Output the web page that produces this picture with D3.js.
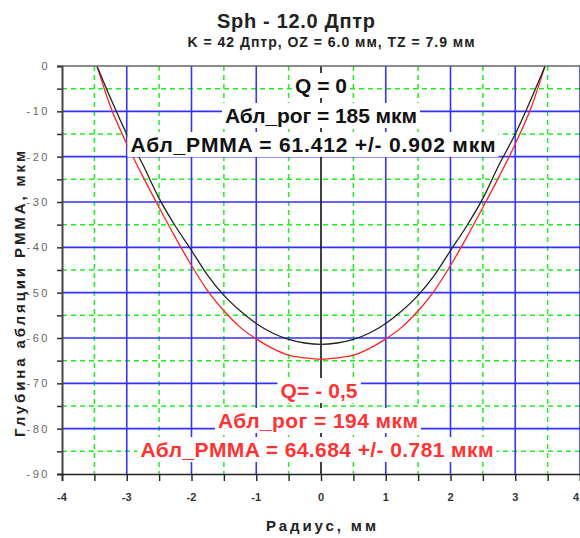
<!DOCTYPE html>
<html>
<head>
<meta charset="utf-8">
<script src="https://cdn.jsdelivr.net/npm/d3@7/dist/d3.min.js"></script>
<style>
  body { margin: 0; background: #fff; }
  text { font-family: "Liberation Sans", Arial, sans-serif; }
</style>
</head>
<body>
<script>
// radius, mm
var radius = [-3.46, -3.25, -3, -2.75, -2.5, -2.25, -2, -1.75, -1.5, -1.25, -1, -0.75, -0.5, -0.25, 0,
              0.25, 0.5, 0.75, 1, 1.25, 1.5, 1.75, 2, 2.25, 2.5, 2.75, 3, 3.25, 3.46];
// ablation depth, Q = 0 (black)
var depthQ0 = [0, -7.1, -15.0, -21.8, -29.2, -35.3, -40.7, -46.2, -50.6, -54.0, -56.8, -58.9, -60.3, -61.1, -61.4,
               -61.1, -60.3, -58.9, -56.8, -54.0, -50.6, -46.2, -40.7, -35.3, -29.2, -21.8, -15.0, -7.1, 0];
// ablation depth, Q = -0.5 (red)
var depthQm = [0, -9.0, -17.2, -24.4, -31.2, -37.8, -44.0, -49.6, -54.0, -57.6, -60.2, -62.3, -63.8, -64.4, -64.7,
               -64.4, -63.8, -62.3, -60.2, -57.6, -54.0, -49.6, -44.0, -37.8, -31.2, -24.4, -17.2, -9.0, 0];

var xTicks = [-4, -3, -2, -1, 0, 1, 2, 3, 4];
var yTicks = [0, -10, -20, -30, -40, -50, -60, -70, -80, -90];

var title = "Sph - 12.0 Дптр";
var subtitle = "K = 42 Дптр, OZ = 6.0 мм, TZ = 7.9 мм";
var xTitle = "Радиус,  мм";
var yTitle = "Глубина абляции PMMA, мкм";
var notesQ0 = ["Q = 0", "Абл_рог = 185 мкм", "Абл_PMMA = 61.412 +/- 0.902 мкм"];
var notesQm = ["Q= - 0,5", "Абл_рог = 194 мкм", "Абл_PMMA = 64.684 +/- 0.781 мкм"];

var W = 580, H = 538;
var svg = d3.select("body").append("svg").attr("width", W).attr("height", H);

var x = d3.scaleLinear().domain([-4, 4]).range([62, 580]);
var y = d3.scaleLinear().domain([0, -90]).range([66, 474]);

// grid: half steps green dashed, whole steps blue, centre black
var halfX = d3.range(-3.5, 4, 1);
var halfY = d3.range(-5, -90, -10);
var grid = svg.append("g");

grid.selectAll(".gx2").data(halfX).enter().append("line")
    .attr("x1", d => x(d)).attr("x2", d => x(d))
    .attr("y1", y(0)).attr("y2", y(-90))
    .attr("stroke", "#22ee22").attr("stroke-width", 1.5).attr("stroke-dasharray", "5,4");
grid.selectAll(".gy2").data(halfY).enter().append("line")
    .attr("x1", x(-4)).attr("x2", x(4))
    .attr("y1", d => y(d)).attr("y2", d => y(d))
    .attr("stroke", "#22ee22").attr("stroke-width", 1.5).attr("stroke-dasharray", "5,4");
grid.selectAll(".gy").data(yTicks.filter(d => d < 0 && d > -90)).enter().append("line")
    .attr("x1", x(-4)).attr("x2", x(4))
    .attr("y1", d => y(d)).attr("y2", d => y(d))
    .attr("stroke", "#3333ff").attr("stroke-width", 1.6);
grid.selectAll(".gx").data(xTicks.filter(d => d > -4)).enter().append("line")
    .attr("x1", d => x(d)).attr("x2", d => x(d))
    .attr("y1", y(0)).attr("y2", y(-90))
    .attr("stroke", d => d === 0 ? "#111" : "#3333ff").attr("stroke-width", 1.6);

// curves
var line = d3.line()
    .x((d, i) => x(radius[i]))
    .y(d => y(d))
    .curve(d3.curveMonotoneX);

svg.append("path").datum(depthQm)
    .attr("d", line).attr("fill", "none").attr("stroke", "#ff2222").attr("stroke-width", 1.3);
svg.append("path").datum(depthQ0)
    .attr("d", line).attr("fill", "none").attr("stroke", "#222").attr("stroke-width", 1.3);

// text with white box behind it
function boxedText(str, cx, base, size, width, color) {
    var g = svg.append("g");
    var t = g.append("text")
        .attr("x", cx).attr("y", base)
        .attr("text-anchor", "middle")
        .attr("font-size", size).attr("font-weight", "bold")
        .attr("fill", color)
        .attr("textLength", width).attr("lengthAdjust", "spacing")
        .text(str);
    var b = t.node().getBBox();
    g.insert("rect", "text")
        .attr("x", b.x - 3).attr("y", b.y - 1)
        .attr("width", b.width + 6).attr("height", b.height + 2)
        .attr("fill", "#fff");
}

boxedText(notesQ0[0], 321, 93, 21, 52, "#111");
boxedText(notesQ0[1], 321, 123, 21, 192, "#111");
boxedText(notesQ0[2], 313, 152, 21, 365, "#111");

boxedText(notesQm[0], 319, 398, 21, 77, "#ff3333");
boxedText(notesQm[1], 318, 428, 21, 200, "#ff3333");
boxedText(notesQm[2], 317, 457, 21, 353, "#ff3333");

// axes
var yAxis = d3.axisLeft(y).tickValues(d3.range(0, -95, -5)).tickSize(5).tickFormat("");
var gy = svg.append("g").attr("transform", "translate(" + x(-4) + ",0)").call(yAxis);
gy.select(".domain").attr("stroke", "#444").attr("stroke-width", 2);
gy.selectAll(".tick line").attr("stroke", "#333").attr("stroke-width", 1.5);

svg.selectAll(".ylab").data(yTicks).enter().append("text")
    .attr("x", 50).attr("y", d => y(d) + 4)
    .attr("text-anchor", "end")
    .attr("font-size", 11).attr("letter-spacing", 2.5)
    .attr("fill", "#666")
    .text(d => d);

var xAxis = d3.axisBottom(x).tickValues(d3.range(-4, 4.5, 0.5)).tickSize(7).tickFormat("");
var gx = svg.append("g").attr("transform", "translate(0," + y(-90) + ")").call(xAxis);
gx.select(".domain").attr("stroke", "#222").attr("stroke-width", 1.6);
gx.selectAll(".tick line").attr("stroke", "#222").attr("stroke-width", 1.4);

svg.selectAll(".xlab").data(xTicks).enter().append("text")
    .attr("x", d => d === 4 ? W - 1 : x(d)).attr("y", 501)
    .attr("text-anchor", d => d === 4 ? "end" : "middle")
    .attr("font-size", 11).attr("font-weight", "bold")
    .attr("fill", "#333")
    .text(d => d);

// top frame line
svg.append("line")
    .attr("x1", x(-4)).attr("x2", x(4)).attr("y1", y(0)).attr("y2", y(0))
    .attr("stroke", "#666").attr("stroke-width", 1.5);

// titles
svg.append("text").attr("x", 296).attr("y", 28)
    .attr("text-anchor", "middle").attr("font-size", 20).attr("font-weight", "bold")
    .attr("fill", "#222").attr("textLength", 158).attr("lengthAdjust", "spacing")
    .text(title);
svg.append("text").attr("x", 331).attr("y", 47)
    .attr("text-anchor", "middle").attr("font-size", 14).attr("font-weight", "bold")
    .attr("fill", "#222").attr("textLength", 287).attr("lengthAdjust", "spacing")
    .text(subtitle);
svg.append("text").attr("x", 321).attr("y", 531)
    .attr("text-anchor", "middle").attr("font-size", 15).attr("font-weight", "bold")
    .attr("fill", "#222").attr("textLength", 110).attr("lengthAdjust", "spacing")
    .text(xTitle);
svg.append("text")
    .attr("transform", "translate(25,294) rotate(-90)")
    .attr("text-anchor", "middle").attr("font-size", 15).attr("font-weight", "bold")
    .attr("fill", "#222").attr("textLength", 286).attr("lengthAdjust", "spacing")
    .text(yTitle);
</script>
</body>
</html>
